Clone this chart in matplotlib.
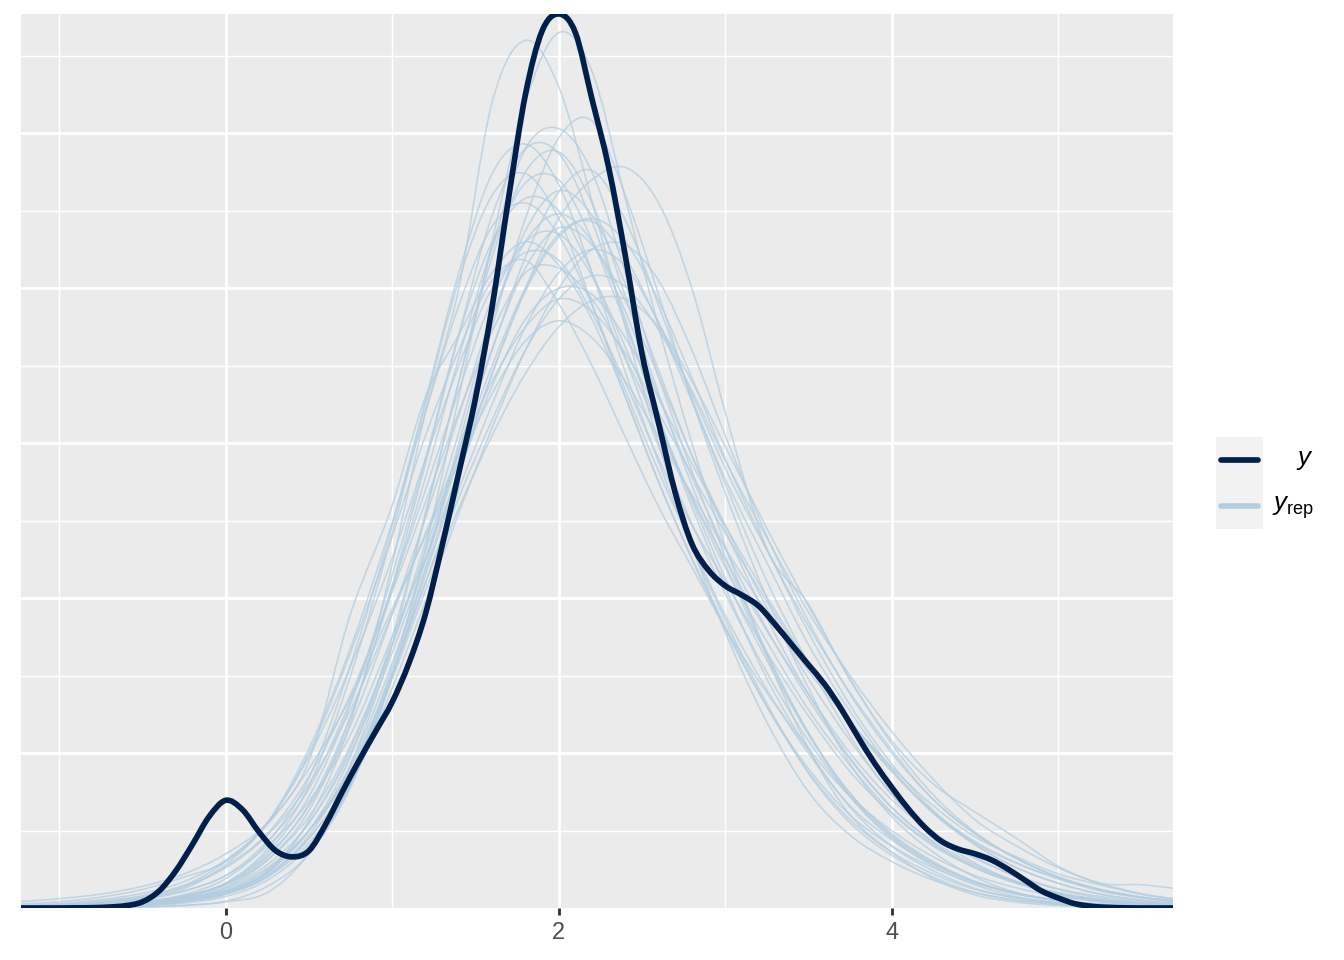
import matplotlib
matplotlib.use("Agg")
import numpy as np
import matplotlib.pyplot as plt
from matplotlib.lines import Line2D
from matplotlib.patches import Rectangle, PathPatch
from matplotlib.path import Path

# ---------------- data ----------------
x_y = [-1.3, -1.2, -1.1, -1.0, -0.9, -0.8, -0.7, -0.6, -0.5, -0.4, -0.3, -0.2, -0.1,
       0.0, 0.1, 0.2, 0.3, 0.4, 0.5, 0.6, 0.7, 0.8, 0.9, 1.0, 1.1, 1.2, 1.3, 1.4, 1.5,
       1.6, 1.7, 1.8, 1.9, 2.0, 2.1, 2.2, 2.3, 2.4, 2.5, 2.6, 2.7, 2.8, 2.9, 3.0, 3.1,
       3.2, 3.3, 3.4, 3.5, 3.6, 3.7, 3.8, 3.9, 4.0, 4.1, 4.2, 4.3, 4.4, 4.5, 4.6, 4.7,
       4.8, 4.9, 5.0, 5.1, 5.2, 5.3, 5.4, 5.5, 5.6, 5.7, 5.8]
dens_y = [0.0, 0.0, 0.0, 0.0, 0.0001, 0.0002, 0.0006, 0.0015, 0.004, 0.011, 0.024, 0.041, 0.059,
          0.0695, 0.0635, 0.049, 0.037, 0.033, 0.037, 0.054, 0.075, 0.095, 0.114, 0.133, 0.158,
          0.190, 0.234, 0.281, 0.329, 0.388, 0.459, 0.525, 0.566, 0.577, 0.565, 0.522, 0.478,
          0.421, 0.358, 0.313, 0.268, 0.235, 0.218, 0.208, 0.202, 0.195, 0.183, 0.170, 0.157,
          0.144, 0.128, 0.110, 0.093, 0.078, 0.064, 0.052, 0.043, 0.038, 0.035, 0.031, 0.025,
          0.018, 0.011, 0.0065, 0.0028, 0.0011, 0.0004, 0.0001, 0.0, 0.0, 0.0, 0.0]

x_rep = [-1.25, -1.0, -0.75, -0.5, -0.25, 0.0, 0.25, 0.5, 0.75, 1.0, 1.2, 1.4, 1.6, 1.8, 2.0,
         2.2, 2.4, 2.6, 2.8, 3.0, 3.25, 3.5, 3.75, 4.0, 4.25, 4.5, 4.75, 5.0, 5.25, 5.5, 5.75]

rep01 = [0.0002,0.0003,0.0006,0.0017,0.004,0.009,0.023,0.057,0.12,0.222,0.32,0.40,0.52,0.56,0.53,0.456,0.375,0.30,0.234,0.178,0.12,0.075,0.047,0.03,0.018,0.01,0.005,0.0025,0.0012,0.0005,0.0002]
rep02 = [0.0001,0.0002,0.0004,0.0008,0.0018,0.0044,0.014,0.035,0.078,0.15,0.232,0.33,0.43,0.52,0.565,0.54,0.458,0.375,0.30,0.234,0.163,0.103,0.06,0.036,0.019,0.0085,0.0038,0.0016,0.0007,0.0003,0.0001]
rep03 = [0.0002,0.0003,0.0006,0.0014,0.0032,0.0075,0.018,0.04,0.08,0.15,0.22,0.30,0.375,0.445,0.497,0.508,0.46,0.396,0.328,0.268,0.20,0.142,0.093,0.059,0.036,0.02,0.01,0.005,0.0023,0.001,0.0005]
rep04 = [0.0002,0.0004,0.0009,0.002,0.0043,0.0092,0.021,0.047,0.093,0.17,0.254,0.34,0.426,0.49,0.503,0.475,0.41,0.343,0.282,0.227,0.165,0.113,0.072,0.045,0.027,0.015,0.0073,0.0034,0.0016,0.0008,0.0003]
rep05 = [0.0003,0.0006,0.0012,0.0026,0.006,0.0135,0.031,0.063,0.123,0.208,0.287,0.37,0.447,0.49,0.487,0.443,0.38,0.316,0.259,0.207,0.148,0.102,0.065,0.04,0.024,0.0127,0.0065,0.003,0.0015,0.0007,0.0003]
rep06 = [0.0,0.0001,0.0003,0.0007,0.0015,0.004,0.01,0.035,0.08,0.15,0.215,0.28,0.345,0.40,0.445,0.47,0.478,0.455,0.40,0.32,0.232,0.196,0.147,0.108,0.08,0.062,0.045,0.027,0.016,0.015,0.012]
rep07 = [0.0004,0.0009,0.0019,0.004,0.0087,0.019,0.042,0.084,0.157,0.247,0.328,0.41,0.474,0.493,0.467,0.41,0.346,0.288,0.233,0.186,0.132,0.087,0.055,0.034,0.02,0.01,0.005,0.0025,0.0012,0.0005,0.0002]
rep08 = [0.0002,0.0004,0.0008,0.002,0.0045,0.009,0.02,0.045,0.085,0.155,0.225,0.295,0.36,0.42,0.462,0.476,0.444,0.389,0.329,0.274,0.211,0.158,0.111,0.073,0.047,0.029,0.017,0.009,0.0045,0.002,0.001]
rep09 = [0.0004,0.0008,0.0016,0.0035,0.007,0.015,0.033,0.067,0.124,0.206,0.278,0.355,0.426,0.468,0.47,0.431,0.377,0.317,0.263,0.213,0.16,0.112,0.074,0.048,0.03,0.017,0.0095,0.005,0.0024,0.0011,0.0005]
rep10 = [0.0004,0.0007,0.0015,0.0031,0.0063,0.013,0.028,0.055,0.103,0.17,0.236,0.307,0.38,0.437,0.463,0.447,0.403,0.347,0.292,0.244,0.187,0.138,0.097,0.065,0.042,0.026,0.016,0.0084,0.0042,0.002,0.001]
rep11 = [0.0007,0.0015,0.0032,0.0065,0.0135,0.028,0.055,0.103,0.168,0.249,0.32,0.389,0.44,0.455,0.434,0.389,0.334,0.282,0.234,0.189,0.141,0.10,0.066,0.044,0.028,0.017,0.0093,0.0047,0.0023,0.0011,0.0005]
rep12 = [0.004,0.006,0.009,0.014,0.022,0.035,0.055,0.095,0.19,0.26,0.33,0.37,0.41,0.43,0.415,0.38,0.33,0.275,0.225,0.18,0.13,0.09,0.06,0.04,0.026,0.016,0.009,0.005,0.0025,0.0012,0.0005]
rep13 = [0.0007,0.0014,0.0027,0.0053,0.011,0.021,0.043,0.077,0.134,0.207,0.27,0.334,0.393,0.43,0.435,0.408,0.362,0.312,0.265,0.22,0.172,0.128,0.092,0.062,0.041,0.027,0.017,0.0095,0.0055,0.003,0.0015]
rep14 = [0.0005,0.001,0.0019,0.0037,0.0075,0.015,0.031,0.059,0.105,0.17,0.231,0.296,0.361,0.413,0.439,0.428,0.392,0.343,0.292,0.247,0.194,0.148,0.108,0.074,0.049,0.033,0.02,0.012,0.0065,0.0033,0.0016]
rep15 = [0.0004,0.0008,0.0015,0.003,0.0053,0.011,0.025,0.05,0.088,0.15,0.21,0.27,0.325,0.375,0.41,0.425,0.414,0.378,0.332,0.284,0.231,0.182,0.139,0.102,0.07,0.048,0.032,0.02,0.012,0.0068,0.0035]
rep16 = [0.0009,0.0018,0.0034,0.0065,0.0125,0.027,0.048,0.085,0.138,0.204,0.262,0.32,0.372,0.41,0.413,0.393,0.355,0.31,0.265,0.225,0.179,0.138,0.10,0.07,0.048,0.032,0.021,0.0125,0.0075,0.004,0.002]
rep17 = [0.0005,0.0009,0.0017,0.0033,0.006,0.012,0.026,0.05,0.09,0.152,0.21,0.265,0.315,0.36,0.393,0.408,0.401,0.373,0.334,0.289,0.239,0.191,0.15,0.114,0.083,0.057,0.04,0.026,0.016,0.0093,0.005]
rep18 = [0.0016,0.0028,0.0054,0.0095,0.017,0.031,0.054,0.09,0.136,0.193,0.24,0.288,0.332,0.366,0.379,0.368,0.34,0.304,0.267,0.232,0.191,0.153,0.12,0.091,0.066,0.046,0.033,0.022,0.015,0.0088,0.005]
rep19 = [0.0004,0.0007,0.0014,0.0028,0.0055,0.011,0.024,0.055,0.10,0.165,0.225,0.29,0.35,0.40,0.435,0.443,0.42,0.377,0.327,0.277,0.223,0.17,0.127,0.09,0.061,0.041,0.026,0.016,0.009,0.005,0.0024]
rep20 = [0.001,0.0019,0.0038,0.0074,0.0145,0.03,0.055,0.098,0.156,0.226,0.29,0.35,0.40,0.423,0.418,0.384,0.339,0.29,0.247,0.211,0.165,0.124,0.088,0.061,0.04,0.026,0.016,0.0095,0.005,0.0027,0.0013]
rep21 = [0.0008,0.0016,0.003,0.0057,0.011,0.021,0.04,0.069,0.112,0.175,0.226,0.281,0.337,0.38,0.40,0.396,0.368,0.329,0.287,0.247,0.201,0.158,0.121,0.089,0.062,0.042,0.029,0.019,0.011,0.0065,0.0035]
rep22 = [0.0025,0.004,0.007,0.012,0.02,0.03,0.055,0.10,0.165,0.24,0.305,0.36,0.405,0.418,0.39,0.35,0.304,0.259,0.22,0.181,0.139,0.103,0.072,0.05,0.033,0.021,0.013,0.0075,0.004,0.002,0.001]
rep23 = [0.0004,0.0008,0.0016,0.003,0.006,0.011,0.022,0.045,0.085,0.148,0.205,0.258,0.305,0.345,0.375,0.392,0.393,0.375,0.34,0.298,0.245,0.195,0.148,0.106,0.073,0.049,0.032,0.02,0.012,0.007,0.004]
rep24 = [0.0005,0.001,0.002,0.004,0.008,0.016,0.034,0.066,0.118,0.19,0.252,0.318,0.382,0.43,0.448,0.43,0.385,0.33,0.278,0.232,0.18,0.135,0.096,0.065,0.043,0.028,0.017,0.01,0.0055,0.003,0.0015]
rep25 = [0.0004,0.0008,0.0017,0.0036,0.0075,0.016,0.036,0.072,0.132,0.215,0.29,0.37,0.43,0.458,0.45,0.41,0.355,0.298,0.248,0.203,0.152,0.108,0.072,0.046,0.029,0.017,0.0095,0.005,0.0025,0.0012,0.0006]
rep26 = [0.0003,0.0006,0.0012,0.0025,0.005,0.01,0.023,0.05,0.092,0.158,0.218,0.283,0.345,0.398,0.433,0.445,0.43,0.392,0.342,0.29,0.232,0.178,0.131,0.093,0.063,0.041,0.026,0.016,0.009,0.005,0.0025]
rep27 = [0.0012,0.0024,0.0045,0.008,0.0145,0.026,0.047,0.08,0.128,0.19,0.242,0.293,0.34,0.375,0.393,0.385,0.358,0.32,0.28,0.242,0.198,0.157,0.12,0.088,0.062,0.043,0.029,0.019,0.012,0.007,0.004]
rep28 = [0.0003,0.0007,0.0015,0.0033,0.0072,0.016,0.038,0.079,0.15,0.242,0.325,0.405,0.46,0.474,0.445,0.39,0.33,0.275,0.226,0.182,0.13,0.088,0.057,0.036,0.022,0.012,0.0065,0.0033,0.0016,0.0008,0.0004]
rep29 = [0.0003,0.0006,0.0012,0.0024,0.0048,0.0095,0.02,0.042,0.08,0.142,0.198,0.255,0.31,0.36,0.40,0.425,0.428,0.405,0.36,0.305,0.24,0.185,0.138,0.10,0.07,0.048,0.032,0.02,0.012,0.007,0.004]
rep30 = [0.0002,0.0004,0.0009,0.002,0.0045,0.01,0.023,0.05,0.098,0.175,0.255,0.34,0.42,0.475,0.488,0.455,0.395,0.332,0.273,0.222,0.163,0.113,0.074,0.047,0.029,0.017,0.0092,0.0046,0.0022,0.001,0.0005]

rep_curves = [rep01, rep02, rep03, rep04, rep05, rep06, rep07, rep08, rep09, rep10,
              rep11, rep12, rep13, rep14, rep15, rep16, rep17, rep18, rep19, rep20,
              rep21, rep22, rep23, rep24, rep25, rep26, rep27, rep28, rep29, rep30]

x_major_ticks = [0, 2, 4]
x_tick_labels = ["0", "2", "4"]
x_minor_ticks = [-1, 1, 3, 5]
y_major_ticks = [0.1, 0.2, 0.3, 0.4, 0.5]
y_minor_ticks = [0.05, 0.15, 0.25, 0.35, 0.45, 0.55]
x_limits = (-1.23, 5.69)
legend_labels = [r"$y$", r"$y_{\mathrm{rep}}$"]

# ---------------- style ----------------
plt.rcParams['font.family'] = ['Liberation Sans', 'DejaVu Sans']
plt.rcParams['mathtext.fontset'] = 'custom'
plt.rcParams['mathtext.it'] = 'Liberation Sans:italic'
plt.rcParams['mathtext.rm'] = 'Liberation Sans'

DARK = '#011f4b'
LIGHT = '#b3cde0'
W, H = 1344, 960


def smooth_path(xs, ys):
    """Cubic Bezier path passing through every data point (rendering only)."""
    x = np.asarray(xs, float)
    y = np.asarray(ys, float)
    n = len(x)
    m = np.zeros(n)
    for i in range(n):
        if i == 0:
            m[i] = (y[1] - y[0]) / (x[1] - x[0])
        elif i == n - 1:
            m[i] = (y[-1] - y[-2]) / (x[-1] - x[-2])
        else:
            h0 = x[i] - x[i - 1]
            h1 = x[i + 1] - x[i]
            d0 = (y[i] - y[i - 1]) / h0
            d1 = (y[i + 1] - y[i]) / h1
            m[i] = (d0 * h1 + d1 * h0) / (h0 + h1)
    verts = [(x[0], y[0])]
    codes = [Path.MOVETO]
    for i in range(n - 1):
        h = x[i + 1] - x[i]
        verts += [(x[i] + h / 3, y[i] + m[i] * h / 3),
                  (x[i + 1] - h / 3, y[i + 1] - m[i + 1] * h / 3),
                  (x[i + 1], y[i + 1])]
        codes += [Path.CURVE4] * 3
    return Path(verts, codes)


fig = plt.figure(figsize=(7, 5), dpi=192)
ax = fig.add_axes([21 / W, 1 - 908 / H, (1173 - 21) / W, (908 - 14) / H])
ax.set_facecolor('#EBEBEB')
for s in ax.spines.values():
    s.set_visible(False)

ax.set_xlim(*x_limits)
ax.set_ylim(0, max(dens_y))
ax.set_xticks(x_major_ticks)
ax.set_xticklabels(x_tick_labels)
ax.set_xticks(x_minor_ticks, minor=True)
ax.set_yticks(y_major_ticks)
ax.set_yticks(y_minor_ticks, minor=True)
ax.grid(which='major', color='white', linewidth=1.07)
ax.grid(which='minor', color='white', linewidth=0.53)
ax.set_axisbelow(True)
ax.tick_params(axis='y', which='both', left=False, labelleft=False)
ax.tick_params(axis='x', which='major', length=2.75, width=1.07, color='#333333',
               labelsize=8.8, labelcolor='#4D4D4D', pad=2.2)
ax.tick_params(axis='x', which='minor', length=0)

for curve in rep_curves:
    ax.add_patch(PathPatch(smooth_path(x_rep, curve), facecolor='none', edgecolor=LIGHT,
                           alpha=0.75, linewidth=0.6, joinstyle='round', zorder=2))
ax.add_patch(PathPatch(smooth_path(x_y, dens_y), facecolor='none', edgecolor=DARK,
                       linewidth=2.13, joinstyle='round', zorder=3))

# ---------------- legend ----------------
fig.add_artist(Rectangle((1216 / W, 1 - 528.5 / H), 47 / W, 91.5 / H,
                         transform=fig.transFigure, facecolor='#F2F2F2', edgecolor='none'))
fig.add_artist(Line2D([1221 / W, 1258 / W], [1 - 460 / H] * 2, transform=fig.transFigure,
                      color=DARK, linewidth=2.13, solid_capstyle='round'))
fig.add_artist(Line2D([1221 / W, 1258 / W], [1 - 506 / H] * 2, transform=fig.transFigure,
                      color=LIGHT, linewidth=2.13, solid_capstyle='round'))
fig.text(1314 / W, 1 - 465 / H, legend_labels[0], ha='right', va='baseline', fontsize=9.7)
fig.text(1314 / W, 1 - 510.5 / H, legend_labels[1], ha='right', va='baseline', fontsize=9.7)

fig.savefig('out.png', dpi=192, facecolor='white')
